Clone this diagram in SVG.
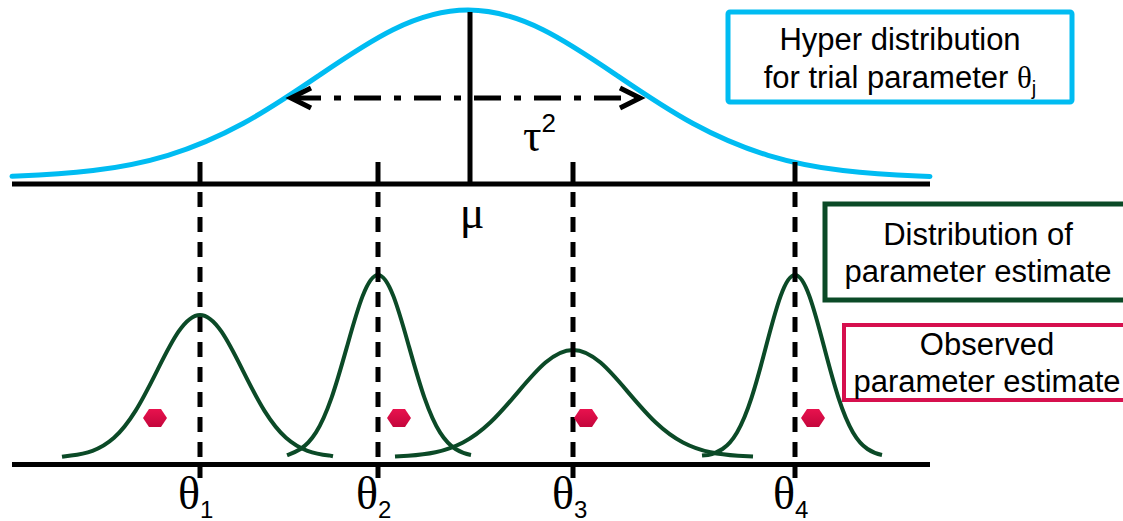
<svg xmlns="http://www.w3.org/2000/svg" width="1123" height="521" viewBox="0 0 1123 521">
<defs>
<style>
.axis{stroke:#000;stroke-width:5;fill:none}
.tick{stroke:#000;stroke-width:5;fill:none}
.vdash{stroke:#000;stroke-width:5;fill:none;stroke-dasharray:15 10}
.hyper{stroke:#00BCF2;stroke-width:5;fill:none;stroke-linecap:round}
.est{stroke:#0B4A27;stroke-width:4;fill:none}
.arrow{stroke:#000;stroke-width:5;fill:none}
.lbl{font-family:"Liberation Sans",Arial,sans-serif;font-size:31px;fill:#000;text-anchor:middle}
.greek{font-family:"Liberation Serif","Times New Roman",serif;font-size:46px;fill:#000}
.sub{font-family:"Liberation Sans",Arial,sans-serif;font-size:24px}
.sup{font-family:"Liberation Sans",Arial,sans-serif;font-size:26px}
.obs{fill:url(#hexg)}
</style>
<linearGradient id="hexg" x1="0" y1="0" x2="0" y2="1">
<stop offset="0" stop-color="#E8124E"/>
<stop offset="1" stop-color="#C4063C"/>
</linearGradient>
<polygon id="hex" points="-12,0 -6,-9 6,-9 12,0 6,9 -6,9"/>
</defs>
<rect width="1123" height="521" fill="#fff"/>

<g id="hyper-curve">
<path class="hyper" d="M12,176.3 L18,176.1 C43,175.2 68,173.7 93,170.6 C118,167.5 143,162.9 168,155.3 C193,147.7 218,137.1 243,123.5 C268,109.9 293,93.1 318,76.1 C343,59.1 368,42 393,29.7 C418,17.3 443,10 468,10 C493,10 518,17.3 543,29.7 C568,42 593,59.1 618,76.1 C643,93.1 668,109.9 693,123.5 C718,137.1 743,147.7 768,155.3 C793,162.9 818,167.5 843,170.6 C868,173.7 893,175.2 918,176.1 L930,176.5"/>
</g>

<g id="estimate-curves">
<path class="est" d="M62,456.8 L71,455.4 C78.2,454.6 85.3,453.4 92.5,450.8 C99.7,448.2 106.8,444.2 114,437.8 C121.2,431.4 128.3,422.4 135.5,410.9 C142.7,399.4 149.8,385.3 157,370.9 C164.2,356.5 171.3,342.1 178.5,331.7 C185.7,321.3 192.8,315 200,315 C207.2,315 214.3,321.3 221.5,331.7 C228.7,342.1 235.8,356.5 243,370.9 C250.2,385.3 257.3,399.4 264.5,410.9 C271.7,422.4 278.8,431.4 286,437.8 C293.2,444.2 300.3,448.2 307.5,450.8 C314.7,453.4 321.8,454.6 329,455.4 L333,456.2"/>
<path class="est" d="M287,455.2 C290.2,454 295.3,452.3 300.5,449 C305.7,445.7 310.8,440.6 316,432.4 C321.2,424.2 326.3,412.7 331.5,397.9 C336.7,383.1 341.8,365 347,346.6 C352.2,328.2 357.3,309.8 362.5,296.4 C367.7,283 372.8,275 378,275 C383.2,275 388.3,283 393.5,296.4 C398.7,309.8 403.8,328.2 409,346.6 C414.2,365 419.3,383.1 424.5,397.9 C429.7,412.7 434.8,424.2 440,432.4 C445.2,440.6 450.3,445.7 455.5,449 C460.7,452.3 465.8,454 471,455"/>
<path class="est" d="M395,456.6 L408,455.8 C417.2,455.2 426.3,454.3 435.5,452.3 C444.7,450.3 453.8,447.3 463,442.5 C472.2,437.7 481.3,431 490.5,422.3 C499.7,413.6 508.8,402.9 518,392.1 C527.2,381.3 536.3,370.5 545.5,362.6 C554.7,354.7 563.8,350 573,350 C582.2,350 591.3,354.7 600.5,362.6 C609.7,370.5 618.8,381.3 628,392.1 C637.2,402.9 646.3,413.6 655.5,422.3 C664.7,431 673.8,437.7 683,442.5 C692.2,447.3 701.3,450.3 710.5,452.3 C719.7,454.3 728.8,455.2 738,455.8 L753,456.6"/>
<path class="est" d="M702,455.6 L708,455 C712.8,454 717.7,452.3 722.5,449 C727.3,445.7 732.2,440.6 737,432.4 C741.8,424.2 746.7,412.7 751.5,397.9 C756.3,383.1 761.2,365 766,346.6 C770.8,328.2 775.7,309.8 780.5,296.4 C785.3,283 790.2,275 795,275 C799.8,275 804.7,283 809.5,296.4 C814.3,309.8 819.2,328.2 824,346.6 C828.8,365 833.7,383.1 838.5,397.9 C843.3,412.7 848.2,424.2 853,432.4 C857.8,440.6 862.7,445.7 867.5,449 C872.3,452.3 877.2,454 882,455"/>
</g>

<g id="connectors">
<line class="tick" x1="470" y1="12" x2="470" y2="184"/>
<line class="tick" x1="200" y1="162" x2="200" y2="184"/>
<line class="tick" x1="378" y1="162" x2="378" y2="184"/>
<line class="tick" x1="573" y1="162" x2="573" y2="184"/>
<line class="tick" x1="795" y1="162" x2="795" y2="184"/>
<line class="vdash" x1="200" y1="192" x2="200" y2="478"/>
<line class="vdash" x1="378" y1="192" x2="378" y2="478"/>
<line class="vdash" x1="573" y1="192" x2="573" y2="478"/>
<line class="vdash" x1="795" y1="192" x2="795" y2="478"/>
<line class="arrow" x1="291" y1="98" x2="640" y2="98" stroke-dasharray="27 13 7 13" stroke-dashoffset="57"/>
<polyline class="arrow" points="311,88 291,98 311,108" stroke-linejoin="miter"/>
<polyline class="arrow" points="620,88 640,98 620,108" stroke-linejoin="miter"/>
<line class="axis" x1="12" y1="184" x2="930" y2="184"/>
<line class="axis" x1="12" y1="464.5" x2="930" y2="464.5"/>
</g>

<g id="observed-points" class="obs">
<use href="#hex" x="155" y="418"/>
<use href="#hex" x="399" y="418"/>
<use href="#hex" x="586" y="418"/>
<use href="#hex" x="813" y="418"/>
</g>

<g id="axis-labels">
<text class="greek" x="472" y="228" text-anchor="middle">μ</text>
<text class="greek" x="523" y="151">τ<tspan class="sup" dy="-19">2</tspan></text>
<text class="greek" x="178" y="509">θ<tspan class="sub" dy="9">1</tspan></text>
<text class="greek" x="356" y="509">θ<tspan class="sub" dy="9">2</tspan></text>
<text class="greek" x="552" y="509">θ<tspan class="sub" dy="9">3</tspan></text>
<text class="greek" x="773" y="509">θ<tspan class="sub" dy="9">4</tspan></text>
</g>

<g id="box-hyper">
<rect x="728" y="12" width="344" height="90" rx="2" fill="#fff" stroke="#00BCF2" stroke-width="5"/>
<text class="lbl" x="900" y="50">Hyper distribution</text>
<text class="lbl" x="900" y="88">for trial parameter <tspan font-family="Liberation Serif, serif">θ</tspan><tspan font-size="20" dy="7">j</tspan></text>
</g>

<g id="box-distribution">
<rect x="825" y="204" width="320" height="96" fill="#fff" stroke="#0B4A27" stroke-width="5"/>
<text class="lbl" x="978" y="245">Distribution of</text>
<text class="lbl" x="978" y="282">parameter estimate</text>
</g>

<g id="box-observed">
<rect x="844" y="325" width="300" height="75" fill="#fff" stroke="#D6104E" stroke-width="4"/>
<text class="lbl" x="987" y="355">Observed</text>
<text class="lbl" x="987" y="392">parameter estimate</text>
</g>
</svg>
